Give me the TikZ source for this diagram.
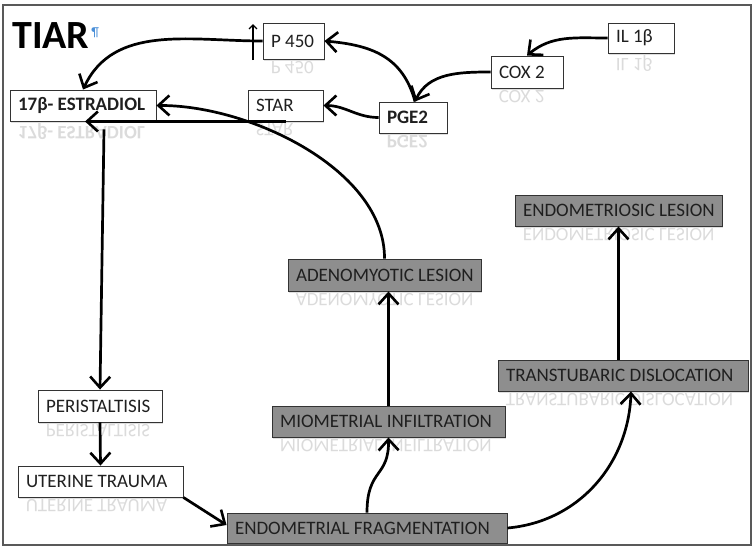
\documentclass[tikz,border=0pt]{standalone}
\usepackage{fontspec}
\setmainfont{Carlito}
\usepackage{graphicx}
\usetikzlibrary{arrows.meta,positioning,shadows}

\definecolor{boxgrey}{HTML}{8E8E8E}
\definecolor{pilcrow}{HTML}{4A8FD8}

% faded mirror image under a box
\newcommand{\mirrortext}[2]{%
  \node[mirror, anchor=north west] at ([xshift=8pt,yshift=-2pt]#1.south west) {\scalebox{1}[-1]{#2}};}

\begin{document}
\begin{tikzpicture}[x=1pt,y=-1pt,
  box/.style={draw=black!80,line width=0.9pt,minimum height=31,inner ysep=0pt,inner xsep=8pt,
    font=\fontsize{19}{21}\selectfont,text=black!88,
    execute at begin node={\hbox\bgroup\spaceskip=0pt\xspaceskip=0pt},execute at end node=\egroup,
    drop shadow={opacity=0.25,shadow xshift=1.2pt,shadow yshift=-1.5pt}},
  whitebox/.style={box,fill=white},
  greybox/.style={box,fill=boxgrey},
  mirror/.style={inner sep=0pt,font=\fontsize{19}{21}\selectfont,text=black!14},
  link/.style={line width=2.7pt,-{Straight Barb[length=11pt,width=20pt,line width=2.6pt]}}]
  \useasboundingbox (0,0) rectangle (754,547);
  \draw[black!65,line width=1.2pt] (3,5) rectangle (751,545);

  \node[anchor=base west,inner sep=0pt,font=\fontsize{40}{44}\bfseries\selectfont] (title) at (12,48)
    {TIAR\hspace{2pt}\raisebox{12pt}{\fontsize{13}{13}\mdseries\selectfont\color{pilcrow}¶}};

  % top: hormone chain
  \node[whitebox,text width=45,minimum height=36] (p450) at (293.5,41) {P 450};
  \node[whitebox,text width=50,minimum height=30] (il1b) at (641,38) {IL 1β};
  \node[whitebox,text width=56,minimum height=32] (cox2) at (527,72) {COX 2};
  \node[whitebox,text width=52,font=\fontsize{19}{21}\bfseries\selectfont] (pge2) at (413,117.5) {PGE2};
  \node[whitebox,text width=59] (star) at (285.5,105.5) {STAR};
  \node[whitebox,text width=130,font=\fontsize{19}{21}\bfseries\selectfont] (estr) at (83,105.5) {17β- ESTRADIOL};

  % lesions
  \node[greybox,text width=191] (endoles) at (618.5,210.5) {ENDOMETRIOSIC LESION};
  \node[greybox,text width=177,minimum height=32] (adenoles) at (384.5,275) {ADENOMYOTIC LESION};
  \node[greybox,text width=234] (transdis) at (623,375.5) {TRANSTUBARIC DISLOCATION};
  \node[greybox,text width=217] (miominf) at (388.5,421.5) {MIOMETRIAL INFILTRATION};
  \node[greybox,text width=264,minimum height=30] (endofrag) at (367,528) {ENDOMETRIAL FRAGMENTATION};

  % left column
  \node[whitebox,text width=108,minimum height=32] (peri) at (100,406) {PERISTALTISIS};
  \node[whitebox,text width=149] (uter) at (100.5,481.5) {UTERINE TRAUMA};

  \mirrortext{p450}{P 450}
  \mirrortext{il1b}{IL 1β}
  \mirrortext{cox2}{COX 2}
  \mirrortext{pge2}{\bfseries PGE2}
  \mirrortext{star}{STAR}
  \mirrortext{estr}{\bfseries 17β- ESTRADIOL}
  \mirrortext{endoles}{ENDOMETRIOSIC LESION}
  \mirrortext{adenoles}{ADENOMYOTIC LESION}
  \mirrortext{transdis}{TRANSTUBARIC DISLOCATION}
  \mirrortext{miominf}{MIOMETRIAL INFILTRATION}
  \mirrortext{peri}{PERISTALTISIS}
  \mirrortext{uter}{UTERINE TRAUMA}

  \draw[link] (il1b.west) to[out=180,in=40] (cox2.north);
  \draw[link] (cox2.west) to[out=180,in=65] ([xshift=2pt]pge2.north);
  \draw[link] ([xshift=2pt]pge2.north) to[out=105,in=-5,looseness=1.1] (p450.east);
  \draw[link] (pge2.west) to[out=180,in=0] (star.east);
  \draw[link] (p450.west) to[out=180,in=65] (estr.north);
  \draw[link] (star.south) -- ([xshift=2pt]estr.south);
  \draw[link] (adenoles.north) .. controls (385,170) and (250,105) .. (estr.east);

  \coordinate (upbot) at (253,60);
  \coordinate (uptop) at (253,24);
  \draw[line width=1.3pt,-{Straight Barb[length=4pt,width=8pt]}] (upbot) -- (uptop);

  \draw[link] ([xshift=21pt,yshift=-8pt]estr.south) -- (peri.north);
  \draw[link] (peri.south) -- (uter.north);
  \draw[link] (uter.south east) -- ([yshift=3pt]endofrag.west);
  \draw[link] (endofrag.north) .. controls (367,468) and (389,478) .. (miominf.south);
  \draw[link] (miominf.north) -- (miominf.north |- adenoles.south);
  \draw[link] (endofrag.east) to[out=5,in=-92] ([xshift=8pt]transdis.south);
  \draw[link] (transdis.north -| endoles.south) -- (endoles.south);
\end{tikzpicture}
\end{document}
